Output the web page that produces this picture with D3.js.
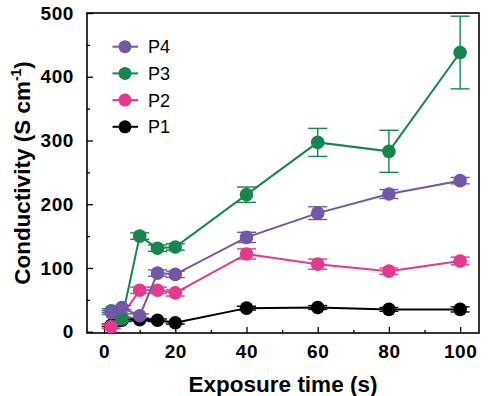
<!DOCTYPE html>
<html>
<head>
<meta charset="utf-8">
<script src="https://cdn.jsdelivr.net/npm/d3@7"></script>
<style>
  body { margin: 0; background: #fff; }
  text { font-family: "Liberation Sans", Arial, sans-serif; }
</style>
</head>
<body>
<div class="canva"></div>
<script>
// exposure times (s)
var times = [2, 5, 10, 15, 20, 40, 60, 80, 100];

// conductivity values (S cm-1) per sample
var p4 = [30, 38, 25, 92, 90, 148, 186, 216, 237];
var p3 = [33, 20, 150, 131, 133, 215, 297, 283, 438];
var p2 = [8, 25, 65, 65, 61, 122, 106, 95, 111];
var p1 = [10, 18, 19, 18, 14, 37, 38, 35, 35];

// error bar half-heights
var p4Err = [3, 3, 3, 5, 5, 8, 10, 7, 5];
var p3Err = [3, 3, 5, 5, 5, 12, 22, 33, 57];
var p2Err = [3, 3, 5, 5, 5, 8, 8, 5, 6];
var p1Err = [2, 2, 2, 2, 2, 3, 3, 3, 4];

var xTicks = [0, 20, 40, 60, 80, 100];
var yTicks = [0, 100, 200, 300, 400, 500];

var series = [
  {name: 'P1', values: p1, err: p1Err, color: '#000000'},
  {name: 'P2', values: p2, err: p2Err, color: '#e5388e'},
  {name: 'P3', values: p3, err: p3Err, color: '#15864f'},
  {name: 'P4', values: p4, err: p4Err, color: '#7157a8'}
];

const svg = d3.select('.canva').append('svg')
    .attr('width', 489)
    .attr('height', 396);

const margin = {top: 13, right: 10, bottom: 63, left: 87};
const graphWidth = 489 - margin.left - margin.right;
const graphHeight = 396 - margin.top - margin.bottom;

const g = svg.append('g')
    .attr('transform', `translate(${margin.left},${margin.top})`);

var x = d3.scaleLinear().domain([-4.8, 105.3]).range([0, graphWidth]);
var y = d3.scaleLinear().domain([-2, 500]).range([graphHeight, 0]);

// minor ticks
var xAxisMinor = d3.axisBottom(x).tickValues(d3.range(10, 101, 20)).tickSize(-3).tickFormat('');
var yAxisMinor = d3.axisLeft(y).tickValues(d3.range(50, 500, 100)).tickSize(-3).tickFormat('');

g.append('g').attr('transform', `translate(0,${graphHeight})`).call(xAxisMinor)
  .call(s => s.select('.domain').remove());
g.append('g').call(yAxisMinor)
  .call(s => s.select('.domain').remove());

var xAxis = d3.axisBottom(x).tickValues(xTicks).tickSize(-6).tickPadding(12);
var yAxis = d3.axisLeft(y).tickValues(yTicks).tickSize(-6).tickPadding(13);

var gx = g.append('g').attr('transform', `translate(0,${graphHeight})`).call(xAxis);
var gy = g.append('g').call(yAxis);

[gx, gy].forEach(a => {
  a.select('.domain').remove();
  a.selectAll('line').attr('stroke', '#000').attr('stroke-width', 1.3);
  a.selectAll('text')
    .attr('font-size', 19)
    .attr('font-weight', 'bold')
    .attr('letter-spacing', 0.6)
    .attr('fill', '#000')
    .style('font-family', '"Liberation Sans", Arial, sans-serif');
});
g.selectAll('.tick line').attr('stroke', '#000').attr('stroke-width', 1.3);

// frame
g.append('rect')
  .attr('width', graphWidth)
  .attr('height', graphHeight)
  .attr('fill', 'none')
  .attr('stroke', '#000')
  .attr('stroke-width', 1.6);

var line = d3.line()
  .x((d, i) => x(times[i]))
  .y(d => y(d));

series.forEach(s => {
  var sg = g.append('g');

  sg.append('path')
    .datum(s.values)
    .attr('fill', 'none')
    .attr('stroke', s.color)
    .attr('stroke-width', 2)
    .attr('d', line);

  var eb = sg.selectAll('.err')
    .data(s.values)
    .enter().append('g')
    .attr('stroke', s.color)
    .attr('stroke-width', 1.4);

  eb.append('line')
    .attr('x1', (d, i) => x(times[i]))
    .attr('x2', (d, i) => x(times[i]))
    .attr('y1', (d, i) => y(d - s.err[i]))
    .attr('y2', (d, i) => y(d + s.err[i]));
  eb.append('line')
    .attr('x1', (d, i) => x(times[i]) - 9.5)
    .attr('x2', (d, i) => x(times[i]) + 9.5)
    .attr('y1', (d, i) => y(d + s.err[i]))
    .attr('y2', (d, i) => y(d + s.err[i]));
  eb.append('line')
    .attr('x1', (d, i) => x(times[i]) - 9.5)
    .attr('x2', (d, i) => x(times[i]) + 9.5)
    .attr('y1', (d, i) => y(d - s.err[i]))
    .attr('y2', (d, i) => y(d - s.err[i]));

  sg.selectAll('circle')
    .data(s.values)
    .enter().append('circle')
    .attr('cx', (d, i) => x(times[i]))
    .attr('cy', d => y(d))
    .attr('r', 6.8)
    .attr('fill', s.color);
});

// legend
var legend = g.append('g').attr('transform', 'translate(38, 33.7)');
series.slice().reverse().forEach((s, i) => {
  var lg = legend.append('g').attr('transform', `translate(0, ${i * 26.7})`);
  lg.append('line')
    .attr('x1', -12.5).attr('x2', 13)
    .attr('stroke', s.color).attr('stroke-width', 2);
  lg.append('circle').attr('r', 6.5).attr('fill', s.color);
  lg.append('text')
    .attr('x', 23)
    .attr('dy', '0.36em')
    .attr('font-size', 18)
    .attr('fill', '#000')
    .text(s.name);
});

// axis titles
svg.append('text')
  .attr('x', margin.left + graphWidth / 2)
  .attr('y', 392)
  .attr('text-anchor', 'middle')
  .attr('font-size', 22.5)
  .attr('font-weight', 'bold')
  .text('Exposure time (s)');

var yt = svg.append('text')
  .attr('transform', `translate(30, ${margin.top + graphHeight / 2}) rotate(-90)`)
  .attr('text-anchor', 'middle')
  .attr('font-size', 22.5)
  .attr('font-weight', 'bold');
yt.append('tspan').text('Conductivity (S cm');
yt.append('tspan').attr('font-size', 14).attr('dy', -9).text('-1');
yt.append('tspan').attr('dy', 9).text(')');
</script>
</body>
</html>
